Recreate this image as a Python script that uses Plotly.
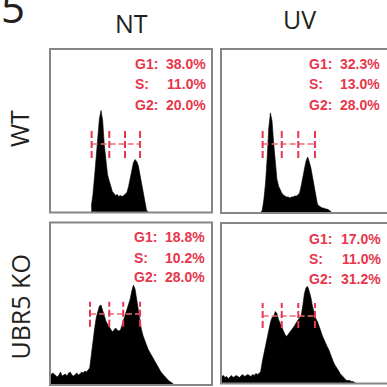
import plotly.graph_objects as go

# ---------------- data ----------------
columns = ["NT", "UV"]
rows = ["WT", "UBR5 KO"]
phases = ["G1:", "S:", "G2:"]
panel_label = "5"

bin_width = 10  # DNA-content channels per histogram bin

# WT / NT
wt_nt_start = 250
wt_nt_counts = [6, 18, 36, 58, 82, 94, 102, 92, 68, 50, 38, 32, 25, 21, 19, 17, 18, 16,
                17, 16, 17, 19, 20, 26, 34, 45, 50, 53, 51, 47, 38, 28, 17, 8, 3, 0]
wt_nt_pct = [38.0, 11.0, 20.0]
wt_nt_gates = [257, 366, 463, 556]
wt_nt_gate_level = [54.5, 68.5, 84.5]

# WT / UV
wt_uv_start = 240
wt_uv_counts = [0, 3, 14, 30, 55, 85, 100, 92, 70, 48, 34, 27, 23, 20, 18, 17, 16, 16,
                15, 16, 16, 17, 17, 18, 20, 27, 34, 44, 52, 56, 51, 45, 36, 26, 15, 9,
                7, 6, 5, 5, 4, 4, 3, 2, 0]
wt_uv_pct = [32.3, 13.0, 28.0]
wt_uv_gates = [257, 375, 477, 580]
wt_uv_gate_level = [55, 69, 85]

# UBR5 KO / NT
ko_nt_start = 0
ko_nt_counts = [10, 12, 11, 9, 8, 10, 13, 9, 10, 11, 9, 12, 13, 10, 9, 11, 12, 10, 11, 13,
                12, 14, 13, 15, 17, 30, 46, 56, 67, 74, 79, 80, 74, 69, 64, 61, 58, 55, 53,
                55, 57, 55, 54, 55, 60, 64, 70, 75, 80, 86, 94, 100, 96, 85, 74, 63, 55, 49,
                44, 40, 36, 33, 30, 27, 24, 22, 19, 16, 13, 11, 9, 7, 6, 4, 3, 2, 0]
ko_nt_pct = [18.8, 10.2, 28.0]
ko_nt_gates = [247, 366, 452, 556]
ko_nt_gate_level = [58.3, 71, 83.3]

# UBR5 KO / UV
ko_uv_start = 0
ko_uv_counts = [7, 8, 6, 7, 5, 7, 8, 6, 7, 8, 7, 6, 8, 9, 7, 8, 9, 8, 7, 9, 8, 10, 9, 10,
                12, 22, 30, 36, 46, 55, 61, 66, 67, 72, 70, 64, 60, 56, 52, 49, 47, 49, 52,
                54, 56, 58, 61, 63, 65, 68, 78, 90, 96, 97, 92, 86, 77, 70, 65, 62, 58, 53,
                48, 44, 40, 37, 34, 29, 24, 21, 18, 16, 13, 10, 8, 6, 4, 3, 3, 3, 2, 2, 1, 0]
ko_uv_pct = [17.0, 11.0, 31.2]
ko_uv_gates = [257, 375, 477, 580]
ko_uv_gate_level = [55.5, 67.5, 80.5]

panels = [
    (wt_nt_start, wt_nt_counts, wt_nt_pct, wt_nt_gates, wt_nt_gate_level),
    (wt_uv_start, wt_uv_counts, wt_uv_pct, wt_uv_gates, wt_uv_gate_level),
    (ko_nt_start, ko_nt_counts, ko_nt_pct, ko_nt_gates, ko_nt_gate_level),
    (ko_uv_start, ko_uv_counts, ko_uv_pct, ko_uv_gates, ko_uv_gate_level),
]

# ---------------- layout (pixels) ----------------
W = H = 387
boxes = [(50, 49, 212, 212.5), (221, 49, 389, 213),
         (50, 222.5, 212, 385), (221, 223, 389, 383.5)]
text_pos = [(132.7, 208, [64, 84.5, 105]), (306.7, 382, [64, 84.5, 104.5]),
            (131.7, 206.7, [237, 257.5, 277]), (306.7, 383, [238.5, 259, 278.5])]
PX_PER_CH = 162 / 1000.0
RED = "#e8364c"
GATE_H = "#ec6a7c"
BORDER = "#868686"
TXT = "#231f20"


def fx(x):
    return x / W


def fy(y):
    return 1 - y / H


fig = go.Figure()
layout = dict(width=W, height=H, margin=dict(l=0, r=0, t=0, b=0),
              paper_bgcolor="white", plot_bgcolor="white", showlegend=False)
shapes = []
annotations = []

for i, ((start, counts, pct, gates, lvl), (l, t, r, b), (tl, tr, tys)) in enumerate(
        zip(panels, boxes, text_pos)):
    n = i + 1
    xa = "x" if n == 1 else f"x{n}"
    ya = "y" if n == 1 else f"y{n}"
    xkey = "xaxis" if n == 1 else f"xaxis{n}"
    ykey = "yaxis" if n == 1 else f"yaxis{n}"
    layout[xkey] = dict(domain=[fx(l), min(1, fx(r))], range=[0, (min(r, W) - l) / PX_PER_CH],
                        visible=False, fixedrange=True, anchor=ya)
    layout[ykey] = dict(domain=[fy(b), fy(t)], range=[0, b - t],
                        visible=False, fixedrange=True, anchor=xa)

    xs = [start + bin_width * k + bin_width / 2 for k in range(len(counts))]
    fig.add_trace(go.Scatter(x=xs, y=counts, mode="lines", fill="tozeroy",
                             fillcolor="black", line=dict(color="black", width=0.6),
                             xaxis=xa, yaxis=ya, hoverinfo="skip"))

    # gates
    gx, gy = [], []
    for g in gates:
        gx += [g, g, None]
        gy += [lvl[0], lvl[2], None]
    fig.add_trace(go.Scatter(x=[gates[0], gates[-1]], y=[lvl[1], lvl[1]], mode="lines",
                             line=dict(color=GATE_H, width=1.5, dash="6px,3px"),
                             xaxis=xa, yaxis=ya, hoverinfo="skip"))
    fig.add_trace(go.Scatter(x=gx, y=gy, mode="lines",
                             line=dict(color=RED, width=2, dash="7px,3px"),
                             xaxis=xa, yaxis=ya, hoverinfo="skip"))

    # border
    shapes.append(dict(type="rect", xref="paper", yref="paper",
                       x0=fx(l), x1=fx(r), y0=fy(b), y1=fy(t),
                       line=dict(color=BORDER, width=2), layer="above"))

    # percentages
    for ph, v, yy in zip(phases, pct, tys):
        annotations.append(dict(x=fx(tl), y=fy(yy), xref="paper", yref="paper",
                                text=ph, showarrow=False, xanchor="left", yanchor="middle",
                                font=dict(family="Liberation Sans", size=14, color=RED,
                                          weight="bold")))
        annotations.append(dict(x=fx(tr), y=fy(yy), xref="paper", yref="paper",
                                text=f"{v:.1f}%", showarrow=False, xanchor="right",
                                yanchor="middle",
                                font=dict(family="Liberation Sans", size=14, color=RED,
                                          weight="bold")))

# column / row titles
for txt, (cx, cy) in zip(columns, [(131.7, 23), (299, 19)]):
    annotations.append(dict(x=fx(cx), y=fy(cy), xref="paper", yref="paper", text=txt,
                            showarrow=False, xanchor="center", yanchor="middle",
                            font=dict(family="Open Sans", size=25, color=TXT)))
for txt, (cx, cy) in zip(rows, [(19, 129), (19, 307.5)]):
    annotations.append(dict(x=fx(cx), y=fy(cy), xref="paper", yref="paper", text=txt,
                            showarrow=False, xanchor="center", yanchor="middle",
                            textangle=-90,
                            font=dict(family="Open Sans", size=25, color=TXT)))
annotations.append(dict(x=fx(-1), y=fy(37), xref="paper", yref="paper", text=panel_label,
                        showarrow=False, xanchor="left", yanchor="bottom",
                        font=dict(family="Open Sans", size=42, color=TXT)))

layout["shapes"] = shapes
layout["annotations"] = annotations
fig.update_layout(**layout)
fig.write_html("out.html", config={"displayModeBar": False})
